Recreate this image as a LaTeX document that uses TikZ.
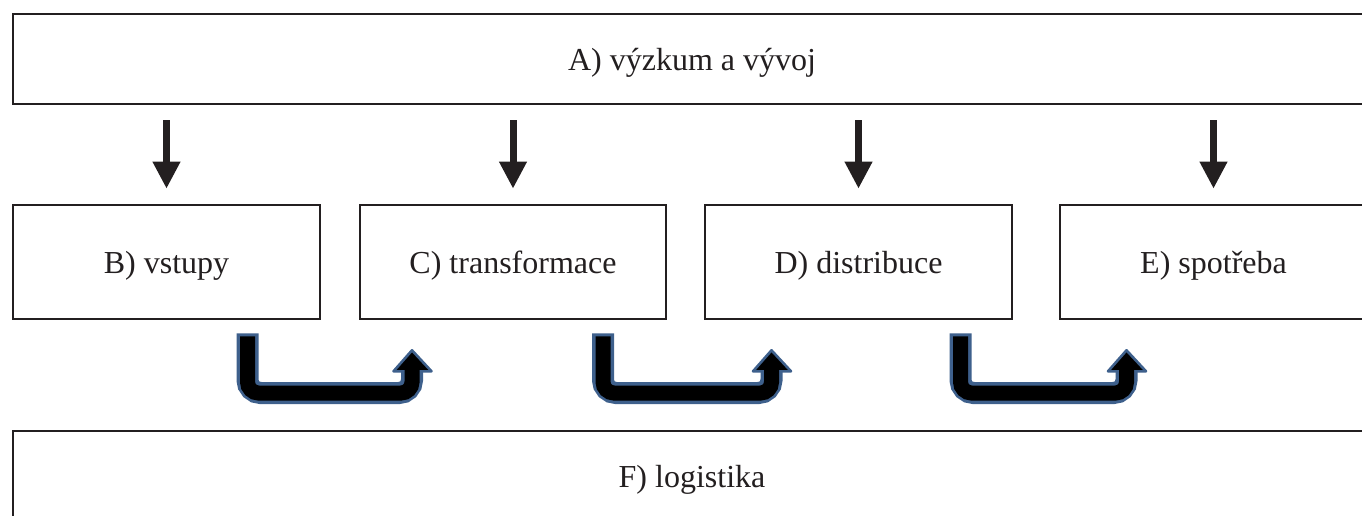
\documentclass[tikz,border=0pt]{standalone}
\usepackage{fontspec}
\setmainfont{Liberation Serif}
\usetikzlibrary{arrows.meta,calc}
\definecolor{boxline}{RGB}{35,31,32}
\definecolor{edgeblue}{RGB}{62,96,140}
\tikzset{
  box/.style={draw=boxline, line width=2.6*0.75pt, fill=white, inner sep=0pt,
    font=\fontsize{24}{28}\selectfont, text=boxline,
    text height=17pt, text depth=0pt},
  downarr/.style={draw=boxline, line width=7*0.75pt,
    -{Triangle[width=26*0.75pt, length=27*0.75pt]},
    shorten <=15*0.75pt, shorten >=15*0.75pt},
}
\newcommand{\uturn}[2]{%
  % #1 start coordinate (top of left shaft), #2 end coordinate (tip)
  \path let \p1=#1, \p2=#2 in
    coordinate (s) at (\x1,\y1)
    coordinate (t) at (\x2,\y2);
  \draw[edgeblue, line width=22*0.75pt, rounded corners=13*0.75pt]
    (s) -- (s |- 0,393) -- (t |- 0,393) -- ($(t)+(0,21)$);
  \draw[edgeblue, fill=black, line width=2.6*0.75pt, line join=round]
    ($(t)+(-18.5,21)$) -- (t) -- ($(t)+(19.5,21)$) -- cycle;
  \draw[black, line width=15*0.75pt, rounded corners=11*0.75pt]
    ($(s)+(0,3)$) -- (s |- 0,393) -- (t |- 0,393) -- ($(t)+(0,18)$);
}
\begin{document}
\begin{tikzpicture}[x=0.75pt, y=-0.75pt]
\useasboundingbox (0,0) rectangle (1362,515);
\node[box, minimum width=1358*0.75pt, minimum height=90*0.75pt] (A) at (692,59) {A) výzkum a vývoj};
\node[box, minimum width=307*0.75pt, minimum height=114*0.75pt] (B) at (166.5,262) {B) vstupy};
\node[box, minimum width=306*0.75pt, minimum height=114*0.75pt] (C) at (513,262) {C) transformace};
\node[box, minimum width=307*0.75pt, minimum height=114*0.75pt] (D) at (858.5,262) {D) distribuce};
\node[box, minimum width=307*0.75pt, minimum height=114*0.75pt] (E) at (1213.5,262) {E) spotřeba};
\node[box, minimum width=1358*0.75pt, minimum height=90*0.75pt] (F) at (692,476) {F) logistika};
\foreach \n in {B,C,D,E}{
  \draw[downarr] (\n.north |- A.south) -- (\n.north);
}
\uturn{($(B.south)+(81,13)$)}{($(C.south)+(-101,30)$)}
\uturn{($(C.south)+(90,13)$)}{($(D.south)+(-87,30)$)}
\uturn{($(D.south)+(102,13)$)}{($(E.south)+(-87,30)$)}
\end{tikzpicture}
\end{document}
